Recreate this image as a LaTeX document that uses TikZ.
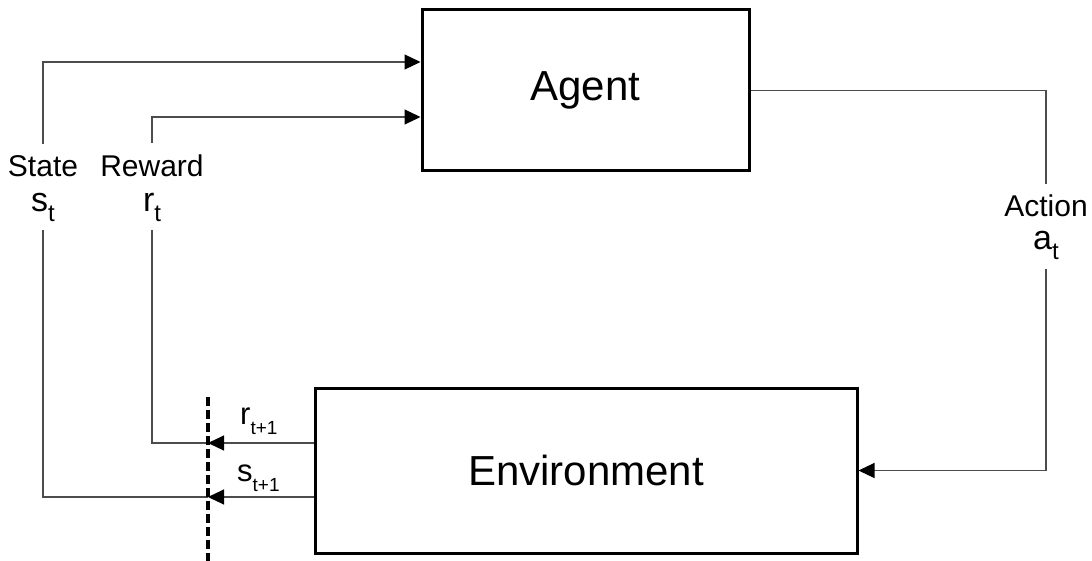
\documentclass[tikz,border=0pt]{standalone}
\usepackage{fontspec}
\setmainfont{Liberation Sans}
\usetikzlibrary{arrows.meta}
\begin{document}
\begin{tikzpicture}[x=1pt,y=-1pt,
  box/.style={draw=black,line width=3pt,inner sep=0pt,font=\fontsize{42}{42}\selectfont},
  wire/.style={draw=black!70,line width=1.1pt},
  arr/.style={wire,-{Triangle[length=16pt,width=15pt,black]}},
  word/.style={font=\fontsize{30}{30}\selectfont,anchor=base,inner xsep=2pt,inner ysep=0pt},
  sym/.style={anchor=base,inner xsep=2pt,inner ysep=0pt},
  lowsym/.style={anchor=base west,inner sep=0pt},
  border/.style={draw=black,line width=3.2pt,dash pattern=on 9pt off 4pt}]
\useasboundingbox (0,0) rectangle (1092,561);
% boxes
\node[box,minimum width=327pt,minimum height=161pt] (agent) at (585.5,90.5) {Agent};
\node[box,minimum width=542pt,minimum height=165pt] (env) at (586,470.5) {Environment};
% labels
\node[word] (stw) at (43,177) {State};
\node[sym] (sts) at (43,212) {\fontsize{34}{34}\selectfont s\raisebox{-10pt}{\fontsize{24}{24}\selectfont t}};
\node[word] (rww) at (152,177) {Reward};
\node[sym] (rws) at (152,212) {\fontsize{34}{34}\selectfont r\raisebox{-10pt}{\fontsize{24}{24}\selectfont t}};
\node[word] (acw) at (1046,217) {Action};
\node[sym] (acs) at (1046,250) {\fontsize{34}{34}\selectfont a\raisebox{-10pt}{\fontsize{24}{24}\selectfont t}};
\node[lowsym] (r1) at (240,424) {\fontsize{31}{31}\selectfont r\raisebox{-10pt}{\fontsize{19}{19}\selectfont t+1}};
\node[lowsym] (s1) at (237,481) {\fontsize{31}{31}\selectfont s\raisebox{-10pt}{\fontsize{19}{19}\selectfont t+1}};
% coordinates
\path (agent.west) ++(0,-28.5) coordinate (ain1);
\path (agent.west) ++(0,26.5) coordinate (ain2);
\path (env.west) ++(0,-27.5) coordinate (eo1);
\path (env.west) ++(0,26.5) coordinate (eo2);
\coordinate (dtop) at (208,397);
\coordinate (dbot) at (208,561);
\coordinate (d1) at (dtop |- eo1);
\coordinate (d2) at (dtop |- eo2);
% connectors
\draw[arr,shorten <=12pt] (stw.north) |- (ain1);
\draw[arr,shorten <=12pt] (rww.north) |- (ain2);
\draw[wire,shorten >=11pt] (agent.east) -| (acw.north);
\draw[arr,shorten <=9pt] (acs.south) |- (env.east);
\draw[arr] (eo1) -- (d1);
\draw[arr] (eo2) -- (d2);
\draw[wire,shorten >=8pt] (d1) -| (rws.south);
\draw[wire,shorten >=8pt] (d2) -| (sts.south);
\draw[border] (dtop) -- (dbot);
\end{tikzpicture}
\end{document}
